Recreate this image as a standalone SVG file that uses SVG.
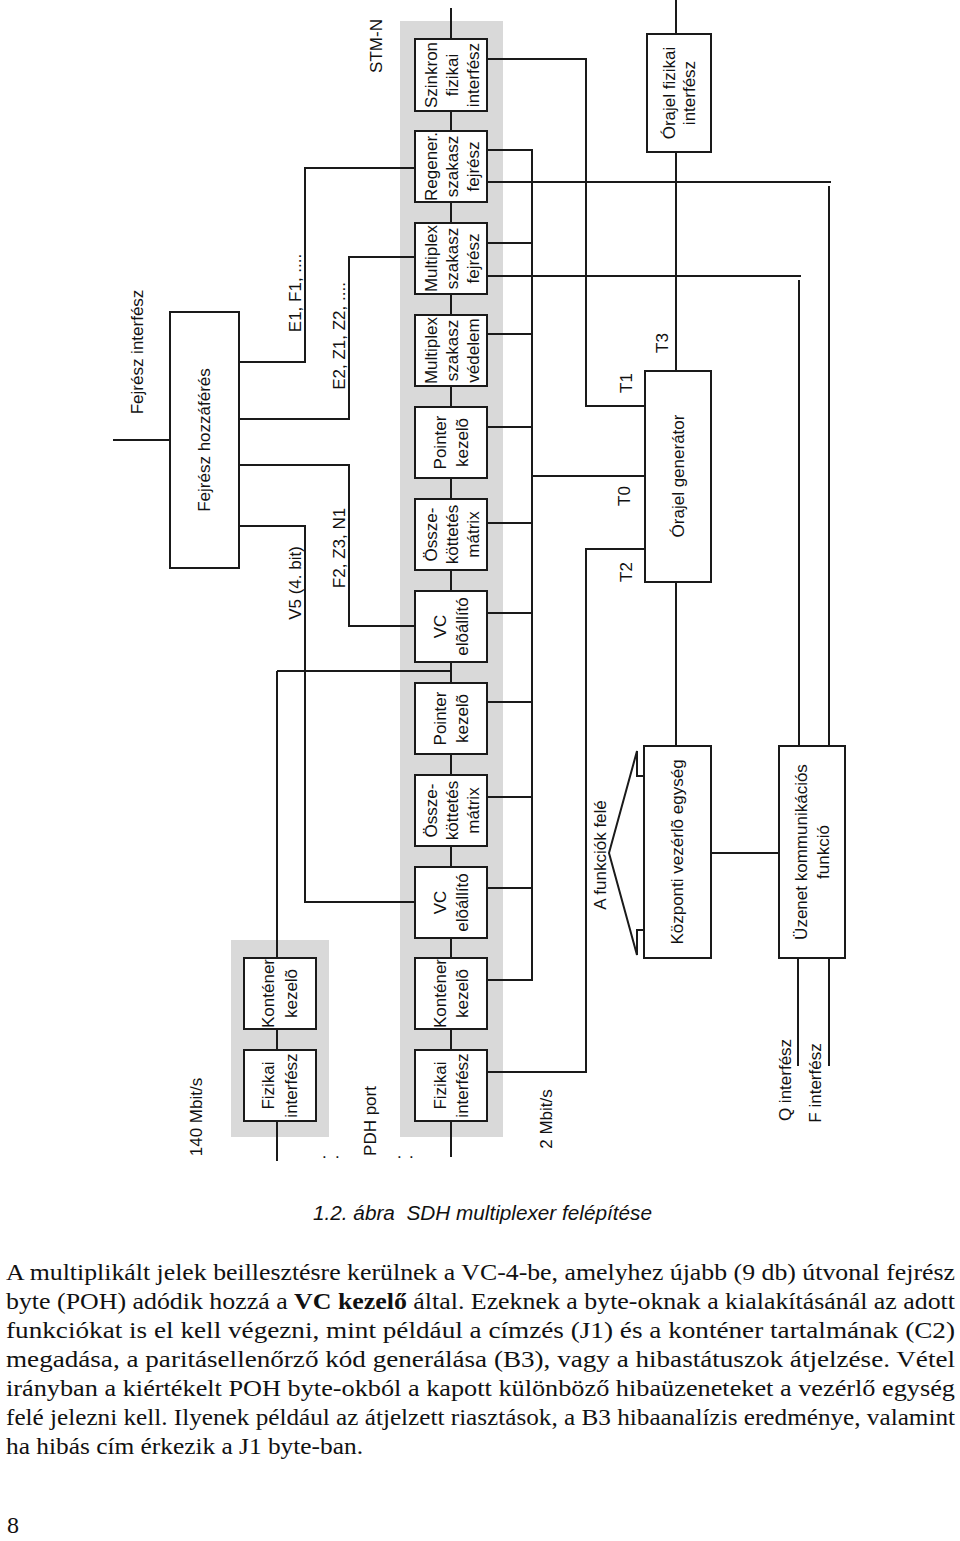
<svg xmlns="http://www.w3.org/2000/svg" width="960" height="1541" viewBox="0 0 960 1541">
<style>
.band{fill:#d9d9d9}
.box{fill:#fff;stroke:#1a1a1a;stroke-width:2}
.ln{fill:none;stroke:#1a1a1a;stroke-width:2}
.t{font-family:"Liberation Sans",Arial,sans-serif;font-size:17px;fill:#111;text-anchor:middle;dominant-baseline:central}
.cap{font-family:"Liberation Sans",Arial,sans-serif;font-size:20px;font-style:italic;fill:#111}
.body{font-family:"Liberation Serif","Times New Roman",serif;font-size:24px;fill:#111}
.dots{font-family:"Liberation Sans",Arial,sans-serif;font-size:17px;fill:#111}
</style>
<rect width="960" height="1541" fill="#fff"/>
<g id="bands">
<rect class="band" x="400" y="21" width="103" height="1116"/>
<rect class="band" x="231" y="940" width="98" height="197"/>
</g>
<g id="connectors">
<path class="ln" d="M451,8 V1157"/>
<path class="ln" d="M277,671 V1161 M277,671 H452"/>
<path class="ln" d="M113,440 H170"/>
<path class="ln" d="M239,362 H305 V168 H415"/>
<path class="ln" d="M239,419 H349 V257 H415"/>
<path class="ln" d="M239,465 H349 V626 H415"/>
<path class="ln" d="M239,526 H305 V902 H415"/>
<path class="ln" d="M532,150 V980"/>
<path class="ln" d="M487,150 H533 M487,243 H533 M487,334 H533 M487,427 H533 M487,523 H533 M487,613 H533 M487,702 H533 M487,797 H533 M487,888 H533 M487,980 H533"/>
<path class="ln" d="M533,476 H645"/>
<path class="ln" d="M487,59 H586 V406 H645"/>
<path class="ln" d="M487,1072 H586 V549 H645"/>
<path class="ln" d="M487,182 H831 M829,186 V746"/>
<path class="ln" d="M487,276 H801 M799,280 V746"/>
<path class="ln" d="M676,0 V34 M676,152 V371 M676,582 V746"/>
<path class="ln" d="M711,853 H779"/>
<path class="ln" d="M798,958 V1066 M829,958 V1066"/>
<path class="ln" d="M644,776 H637 V751 L609,853 L637,955 V930 H644"/>
</g>
<g id="n_szinkron"><rect class="box" x="415" y="39" width="72" height="72"/>
<text class="t" transform="translate(431,75) rotate(-90)">Szinkron</text>
<text class="t" transform="translate(452,75) rotate(-90)">fizikai</text>
<text class="t" transform="translate(473,75) rotate(-90)">interfész</text></g>
<g id="n_regener"><rect class="box" x="415" y="131" width="72" height="71"/>
<text class="t" transform="translate(431,166.5) rotate(-90)">Regener.</text>
<text class="t" transform="translate(452,166.5) rotate(-90)">szakasz</text>
<text class="t" transform="translate(473,166.5) rotate(-90)">fejrész</text></g>
<g id="n_msfejresz"><rect class="box" x="415" y="223" width="72" height="71"/>
<text class="t" transform="translate(431,258.5) rotate(-90)">Multiplex</text>
<text class="t" transform="translate(452,258.5) rotate(-90)">szakasz</text>
<text class="t" transform="translate(473,258.5) rotate(-90)">fejrész</text></g>
<g id="n_msvedelem"><rect class="box" x="415" y="315" width="72" height="71"/>
<text class="t" transform="translate(431,350.5) rotate(-90)">Multiplex</text>
<text class="t" transform="translate(452,350.5) rotate(-90)">szakasz</text>
<text class="t" transform="translate(473,350.5) rotate(-90)">védelem</text></g>
<g id="n_pointer1"><rect class="box" x="415" y="407" width="72" height="71"/>
<text class="t" transform="translate(440,442.5) rotate(-90)">Pointer</text>
<text class="t" transform="translate(462,442.5) rotate(-90)">kezelõ</text></g>
<g id="n_matrix1"><rect class="box" x="415" y="499" width="72" height="71"/>
<text class="t" transform="translate(431,534.5) rotate(-90)">Össze-</text>
<text class="t" transform="translate(452,534.5) rotate(-90)">köttetés</text>
<text class="t" transform="translate(473,534.5) rotate(-90)">mátrix</text></g>
<g id="n_vc1"><rect class="box" x="415" y="591" width="72" height="71"/>
<text class="t" transform="translate(440,626.5) rotate(-90)">VC</text>
<text class="t" transform="translate(462,626.5) rotate(-90)">elõállító</text></g>
<g id="n_pointer2"><rect class="box" x="415" y="683" width="72" height="71"/>
<text class="t" transform="translate(440,718.5) rotate(-90)">Pointer</text>
<text class="t" transform="translate(462,718.5) rotate(-90)">kezelõ</text></g>
<g id="n_matrix2"><rect class="box" x="415" y="775" width="72" height="71"/>
<text class="t" transform="translate(431,810.5) rotate(-90)">Össze-</text>
<text class="t" transform="translate(452,810.5) rotate(-90)">köttetés</text>
<text class="t" transform="translate(473,810.5) rotate(-90)">mátrix</text></g>
<g id="n_vc2"><rect class="box" x="415" y="867" width="72" height="71"/>
<text class="t" transform="translate(440,902.5) rotate(-90)">VC</text>
<text class="t" transform="translate(462,902.5) rotate(-90)">elõállító</text></g>
<g id="n_kontener"><rect class="box" x="415" y="958" width="72" height="71"/>
<text class="t" transform="translate(440,993.5) rotate(-90)">Konténer</text>
<text class="t" transform="translate(462,993.5) rotate(-90)">kezelõ</text></g>
<g id="n_fizikai"><rect class="box" x="415" y="1050" width="72" height="71"/>
<text class="t" transform="translate(440,1085.5) rotate(-90)">Fizikai</text>
<text class="t" transform="translate(462,1085.5) rotate(-90)">interfész</text></g>
<g id="n_kontener140"><rect class="box" x="244" y="958" width="72" height="71"/>
<text class="t" transform="translate(268,993.5) rotate(-90)">Konténer</text>
<text class="t" transform="translate(291,993.5) rotate(-90)">kezelõ</text></g>
<g id="n_fizikai140"><rect class="box" x="244" y="1050" width="72" height="71"/>
<text class="t" transform="translate(268,1085.5) rotate(-90)">Fizikai</text>
<text class="t" transform="translate(291,1085.5) rotate(-90)">interfész</text></g>
<g id="n_fejreszhozzaferes"><rect class="box" x="170" y="312" width="69" height="256"/>
<text class="t" transform="translate(204,440) rotate(-90)">Fejrész hozzáférés</text></g>
<g id="n_orajelfizikai"><rect class="box" x="647" y="34" width="64" height="118"/>
<text class="t" transform="translate(669,93) rotate(-90)">Órajel fizikai</text>
<text class="t" transform="translate(689,93) rotate(-90)">interfész</text></g>
<g id="n_orajelgenerator"><rect class="box" x="645" y="371" width="66" height="211"/>
<text class="t" transform="translate(678,476) rotate(-90)">Órajel generátor</text></g>
<g id="n_kozponti"><rect class="box" x="644" y="746" width="67" height="212"/>
<text class="t" transform="translate(677.5,852) rotate(-90)">Központi vezérlõ egység</text></g>
<g id="n_uzenet"><rect class="box" x="779" y="746" width="66" height="212"/>
<text class="t" transform="translate(801,852) rotate(-90)">Üzenet kommunikációs</text>
<text class="t" transform="translate(823,852) rotate(-90)">funkció</text></g>
<g id="labels">
<text class="t" transform="translate(137,352) rotate(-90)">Fejrész interfész</text>
<text class="t" transform="translate(295,293) rotate(-90)">E1, F1, ....</text>
<text class="t" transform="translate(339,336) rotate(-90)">E2, Z1, Z2, ....</text>
<text class="t" transform="translate(339,548) rotate(-90)">F2, Z3, N1</text>
<text class="t" transform="translate(295,583) rotate(-90)">V5 (4. bit)</text>
<text class="t" transform="translate(376,46) rotate(-90)">STM-N</text>
<text class="t" transform="translate(626,383) rotate(-90)">T1</text>
<text class="t" transform="translate(662,343) rotate(-90)">T3</text>
<text class="t" transform="translate(624,496) rotate(-90)">T0</text>
<text class="t" transform="translate(626,572) rotate(-90)">T2</text>
<text class="t" transform="translate(600,855) rotate(-90)">A funkciók felé</text>
<text class="t" transform="translate(196,1117) rotate(-90)">140 Mbit/s</text>
<text class="t" transform="translate(370,1121) rotate(-90)">PDH port</text>
<text class="t" transform="translate(546,1119) rotate(-90)">2 Mbit/s</text>
<text class="t" transform="translate(785,1080) rotate(-90)">Q interfész</text>
<text class="t" transform="translate(815,1083) rotate(-90)">F interfész</text>
<text class="dots" x="322 335" y="1158">..</text>
<text class="dots" x="397 409" y="1158">..</text>
</g>
<g id="caption">
<text class="cap" x="313" y="1220" textLength="339" lengthAdjust="spacingAndGlyphs" xml:space="preserve">1.2. ábra  SDH multiplexer felépítése</text>
</g>
<g id="bodytext">
<text class="body" x="6" y="1280" textLength="949" lengthAdjust="spacingAndGlyphs">A multiplikált jelek beillesztésre kerülnek a VC-4-be, amelyhez újabb (9 db) útvonal fejrész</text>
<text class="body" x="6" y="1309" textLength="949" lengthAdjust="spacingAndGlyphs">byte (POH) adódik hozzá a <tspan font-weight="bold">VC kezelő</tspan> által. Ezeknek a byte-oknak a kialakításánál az adott</text>
<text class="body" x="6" y="1338" textLength="949" lengthAdjust="spacingAndGlyphs">funkciókat is el kell végezni, mint például a címzés (J1) és a konténer tartalmának (C2)</text>
<text class="body" x="6" y="1367" textLength="949" lengthAdjust="spacingAndGlyphs">megadása, a paritásellenőrző kód generálása (B3), vagy a hibastátuszok átjelzése. Vétel</text>
<text class="body" x="6" y="1396" textLength="949" lengthAdjust="spacingAndGlyphs">irányban a kiértékelt POH byte-okból a kapott különböző hibaüzeneteket a vezérlő egység</text>
<text class="body" x="6" y="1425" textLength="949" lengthAdjust="spacingAndGlyphs">felé jelezni kell. Ilyenek például az átjelzett riasztások, a B3 hibaanalízis eredménye, valamint</text>
<text class="body" x="6" y="1454" textLength="357" lengthAdjust="spacingAndGlyphs">ha hibás cím érkezik a J1 byte-ban.</text>
<text class="body" x="7" y="1533">8</text>
</g>
</svg>
